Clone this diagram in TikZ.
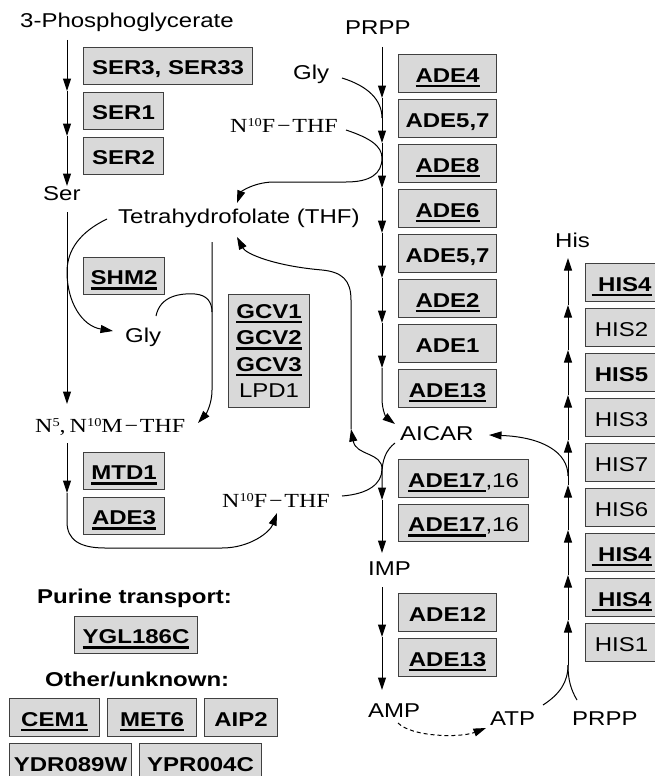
\documentclass[tikz,border=0pt]{standalone}
\usepackage{fontspec}
\setmainfont{Liberation Serif}
\setsansfont{Liberation Sans}
\usepackage{graphicx}
\usetikzlibrary{arrows.meta}
\newcommand\sx[1]{\scalebox{1.2}[1]{#1}}
\newcommand\ulx[1]{\setbox0=\hbox{#1}\rlap{\smash{\rule[-5pt]{\wd0}{2.3pt}}}\box0}
\newcommand\supx[1]{\raisebox{5.5pt}{\fontsize{12}{12}\selectfont #1}}
\newcommand\gbu[1]{\sx{\ulx{\textbf{#1}}}}
\newcommand\gbo[1]{\sx{\textbf{#1}}}
\newcommand\gnr[1]{\sx{#1}}
\begin{document}
\begin{tikzpicture}[x=1pt,y=-1pt,
 box/.style={draw=black!75, fill=black!15, line width=1.1pt, inner sep=0pt, anchor=north west, font=\sffamily\fontsize{20}{24}\selectfont},
 one/.style={text height=17.5pt, text depth=0.3pt},
 lbl/.style={inner sep=0pt, anchor=base west, font=\sffamily\fontsize{20}{24}\selectfont},
 slbl/.style={inner sep=0pt, anchor=base west, font=\rmfamily\fontsize{20}{24}\selectfont},
 conn/.style={line width=1pt, draw=black},
 arr/.style={conn, -{Triangle[length=12.5pt,width=8pt]}},
 dsh/.style={arr, dash pattern=on 4pt off 3pt},
]
\useasboundingbox (0,0) rectangle (655,776);

% ---------- text labels ----------
\node[lbl] (pg) at (20,28) {\sx{3-Phosphoglycerate}};
\node[lbl] (prpp1) at (345,35) {\sx{PRPP}};
\node[lbl] (gly1) at (293,79) {\sx{Gly}};
\node[slbl] (nf1) at (230,132) {\sx{N\supx{10}F\kern1.5pt−\kern1.5pt THF}};
\node[lbl] (ser) at (43,200) {\sx{Ser}};
\node[lbl] (thf) at (118,223) {\sx{Tetrahydrofolate (THF)}};
\node[lbl] (gly2) at (125,342) {\sx{Gly}};
\node[slbl] (nm) at (35,432) {\sx{N\supx{5},\,N\supx{10}M\kern1.5pt−\kern1.5pt THF}};
\node[slbl] (nf2) at (222,507) {\sx{N\supx{10}F\kern1.5pt−\kern1.5pt THF}};
\node[lbl] (aicar) at (400,440) {\sx{AICAR}};
\node[lbl] (imp) at (368,575) {\sx{IMP}};
\node[lbl] (amp) at (368,717) {\sx{AMP}};
\node[lbl] (atp) at (490,725) {\sx{ATP}};
\node[lbl] (prpp2) at (572,725) {\sx{PRPP}};
\node[lbl] (his) at (555,247) {\sx{His}};
\node[lbl] (purine) at (37,603) {\gbo{Purine transport:}};
\node[lbl] (other) at (45,686) {\gbo{Other/unknown:}};

% ---------- serine boxes ----------
\node[box,one,minimum width=169pt,minimum height=37pt] (ser3) at (83,47) {\gbo{SER3, SER33}};
\node[box,one,minimum width=80pt,minimum height=37pt] (ser1) at (83,92) {\gbo{SER1}};
\node[box,one,minimum width=80pt,minimum height=37pt] (ser2) at (83,137) {\gbo{SER2}};
\node[box,one,minimum width=81pt,minimum height=37pt] (shm2) at (83,257) {\gbu{SHM2}};
\node[box,align=center,font=\sffamily\fontsize{20}{26.6}\selectfont,minimum width=81pt,minimum height=113pt] (gcv) at (228,294)
  {\gbu{GCV1}\\ \gbu{GCV2}\\ \gbu{GCV3}\\ \gnr{LPD1}};
\node[box,one,minimum width=81pt,minimum height=37pt] (mtd1) at (83,452) {\gbu{MTD1}};
\node[box,one,minimum width=81pt,minimum height=37pt] (ade3) at (83,497) {\gbu{ADE3}};

% ---------- purine boxes ----------
\node[box,one,minimum width=98pt,minimum height=38pt] (ade4) at (398,54) {\gbu{ADE4}};
\node[box,one,minimum width=98pt,minimum height=38pt] (ade57a) at (398,99) {\gbo{ADE5,7}};
\node[box,one,minimum width=98pt,minimum height=38pt] (ade8) at (398,144) {\gbu{ADE8}};
\node[box,one,minimum width=98pt,minimum height=38pt] (ade6) at (398,189) {\gbu{ADE6}};
\node[box,one,minimum width=98pt,minimum height=38pt] (ade57b) at (398,234) {\gbo{ADE5,7}};
\node[box,one,minimum width=98pt,minimum height=38pt] (ade2) at (398,279) {\gbu{ADE2}};
\node[box,one,minimum width=98pt,minimum height=38pt] (ade1) at (398,324) {\gbo{ADE1}};
\node[box,one,minimum width=98pt,minimum height=38pt] (ade13a) at (398,369) {\gbu{ADE13}};
\node[box,one,minimum width=130pt,minimum height=38pt] (ade17a) at (398,459) {\sx{\ulx{\textbf{ADE17}},16}};
\node[box,one,minimum width=130pt,minimum height=37pt] (ade17b) at (398,504) {\sx{\ulx{\textbf{ADE17}},16}};
\node[box,one,minimum width=98pt,minimum height=38pt] (ade12) at (398,593) {\gbo{ADE12}};
\node[box,one,minimum width=98pt,minimum height=38pt] (ade13b) at (398,638) {\gbu{ADE13}};

% ---------- histidine boxes ----------
\node[box,one,minimum width=72pt,minimum height=38pt] (his4a) at (585,263) {\gbu{\ HIS4}};
\node[box,one,minimum width=72pt,minimum height=38pt] (his2) at (585,308) {\gnr{HIS2}};
\node[box,one,minimum width=72pt,minimum height=38pt] (his5) at (585,353) {\gbo{HIS5}};
\node[box,one,minimum width=72pt,minimum height=38pt] (his3) at (585,398) {\gnr{HIS3}};
\node[box,one,minimum width=72pt,minimum height=38pt] (his7) at (585,443) {\gnr{HIS7}};
\node[box,one,minimum width=72pt,minimum height=38pt] (his6) at (585,488) {\gnr{HIS6}};
\node[box,one,minimum width=72pt,minimum height=38pt] (his4b) at (585,533) {\gbu{\ HIS4}};
\node[box,one,minimum width=72pt,minimum height=38pt] (his4c) at (585,578) {\gbu{\ HIS4}};
\node[box,one,minimum width=72pt,minimum height=38pt] (his1) at (585,623) {\gnr{HIS1}};

% ---------- other boxes ----------
\node[box,one,minimum width=123pt,minimum height=37pt] (ygl) at (74,616) {\gbu{YGL186C}};
\node[box,one,minimum width=90pt,minimum height=38pt] (cem1) at (9,698) {\gbu{CEM1}};
\node[box,one,minimum width=89pt,minimum height=38pt] (met6) at (107,698) {\gbu{MET6}};
\node[box,one,minimum width=73pt,minimum height=38pt] (aip2) at (204,698) {\gbo{AIP2}};
\node[box,one,minimum width=122pt,minimum height=38pt] (ydr) at (9,743) {\gbo{YDR089W}};
\node[box,one,minimum width=122pt,minimum height=38pt] (ypr) at (139,743) {\gbo{YPR004C}};

% ---------- connector points ----------
\path (67,40) coordinate (s0) (67,91) coordinate (s1) (67,136) coordinate (s2) (67,186) coordinate (s3);
\path (382,47) coordinate (a0) (382,98) coordinate (a1) (382,143) coordinate (a2) (382,188) coordinate (a3)
      (382,233) coordinate (a4) (382,278) coordinate (a5) (382,323) coordinate (a6) (382,368) coordinate (a7)
      (395,424) coordinate (aicin);
\path (342,78) coordinate (g1s) (382,118) coordinate (g1e);
\path (346,130) coordinate (nf1s) (237,203) coordinate (thfin1) (237,237) coordinate (thfin2);
\path (351,429) coordinate (ret) (342,496) coordinate (nf2s);
\path (395,443) coordinate (aicout) (382,500) coordinate (i1) (382,553) coordinate (i2);
\path (382,587) coordinate (m0) (382,637) coordinate (m1) (382,690) coordinate (m2);
\path (398,723) coordinate (amps) (486,728) coordinate (atpin);
\path (543,705) coordinate (atps) (577,700) coordinate (prpps) (568,665) coordinate (h0);
\path (568,620) coordinate (h1) (568,575) coordinate (h2) (568,530) coordinate (h3) (568,485) coordinate (h4)
      (568,440) coordinate (h5) (568,395) coordinate (h6) (568,350) coordinate (h7) (568,305) coordinate (h8)
      (568,258) coordinate (h9) (568,476) coordinate (hb) (489,435) coordinate (aicin2);
\path (67,212) coordinate (sers) (67,404) coordinate (nmin);
\path (107,219) coordinate (thfs1) (113,331) coordinate (glyin);
\path (212,242) coordinate (thfs2) (198,423) coordinate (nmin2);
\path (156,316) coordinate (g2s) (212,312) coordinate (g2e);
\path (67,443) coordinate (nms) (67,493) coordinate (n1) (277,513) coordinate (nf2in);

% ---------- connectors ----------
\draw[arr] (s0) -- (s1);
\draw[arr] (s1) -- (s2);
\draw[arr] (s2) -- (s3);

\draw[arr] (a0) -- (a1);
\draw[arr] (a1) -- (a2);
\draw[arr] (a2) -- (a3);
\draw[arr] (a3) -- (a4);
\draw[arr] (a4) -- (a5);
\draw[arr] (a5) -- (a6);
\draw[arr] (a6) -- (a7);
\draw[arr] (a7) -- (382,398) .. controls (382,412) and (387,418) .. (aicin);

\draw[conn] (g1s) .. controls (368,86) and (382,100) .. (g1e);
\draw[arr] (nf1s) .. controls (370,138) and (382,146) .. (382,158) .. controls (382,174) and (370,182) .. (346,182)
   -- (272,182) .. controls (252,183) and (241,192) .. (thfin1);

\draw[arr] (ret) -- (351,300) .. controls (351,280) and (342,272) .. (322,270) .. controls (275,266) and (246,254) .. (thfin2);
\draw[arr] (nf2s) .. controls (368,494) and (382,484) .. (382,469) .. controls (382,452) and (356,456) .. (ret);

\draw[arr] (aicout) .. controls (386,450) and (382,460) .. (382,474) -- (i1);
\draw[arr] (i1) -- (i2);
\draw[arr] (m0) -- (m1);
\draw[arr] (m1) -- (m2);
\draw[dsh] (amps) .. controls (412,737) and (460,738) .. (atpin);

\draw[conn] (atps) .. controls (560,694) and (568,682) .. (h0);
\draw[conn] (prpps) .. controls (571,690) and (568,680) .. (h0);
\draw[arr] (h0) -- (h1);
\draw[arr] (h1) -- (h2);
\draw[arr] (h2) -- (h3);
\draw[arr] (h3) -- (h4);
\draw[arr] (h4) -- (h5);
\draw[arr] (h5) -- (h6);
\draw[arr] (h6) -- (h7);
\draw[arr] (h7) -- (h8);
\draw[arr] (h8) -- (h9);
\draw[arr] (hb) .. controls (568,452) and (542,437) .. (aicin2);

\draw[arr] (sers) -- (nmin);
\draw[arr] (thfs1) .. controls (80,232) and (67,250) .. (67,272) .. controls (67,302) and (82,326) .. (glyin);
\draw[arr] (thfs2) -- (212,390) .. controls (212,404) and (206,414) .. (nmin2);
\draw[conn] (g2s) .. controls (160,296) and (180,293) .. (195,294) .. controls (207,295) and (212,302) .. (g2e);
\draw[arr] (nms) -- (n1);
\draw[arr] (n1) -- (67,522) .. controls (67,540) and (80,548) .. (105,548) -- (222,548) .. controls (250,548) and (270,532) .. (nf2in);
\end{tikzpicture}
\end{document}
